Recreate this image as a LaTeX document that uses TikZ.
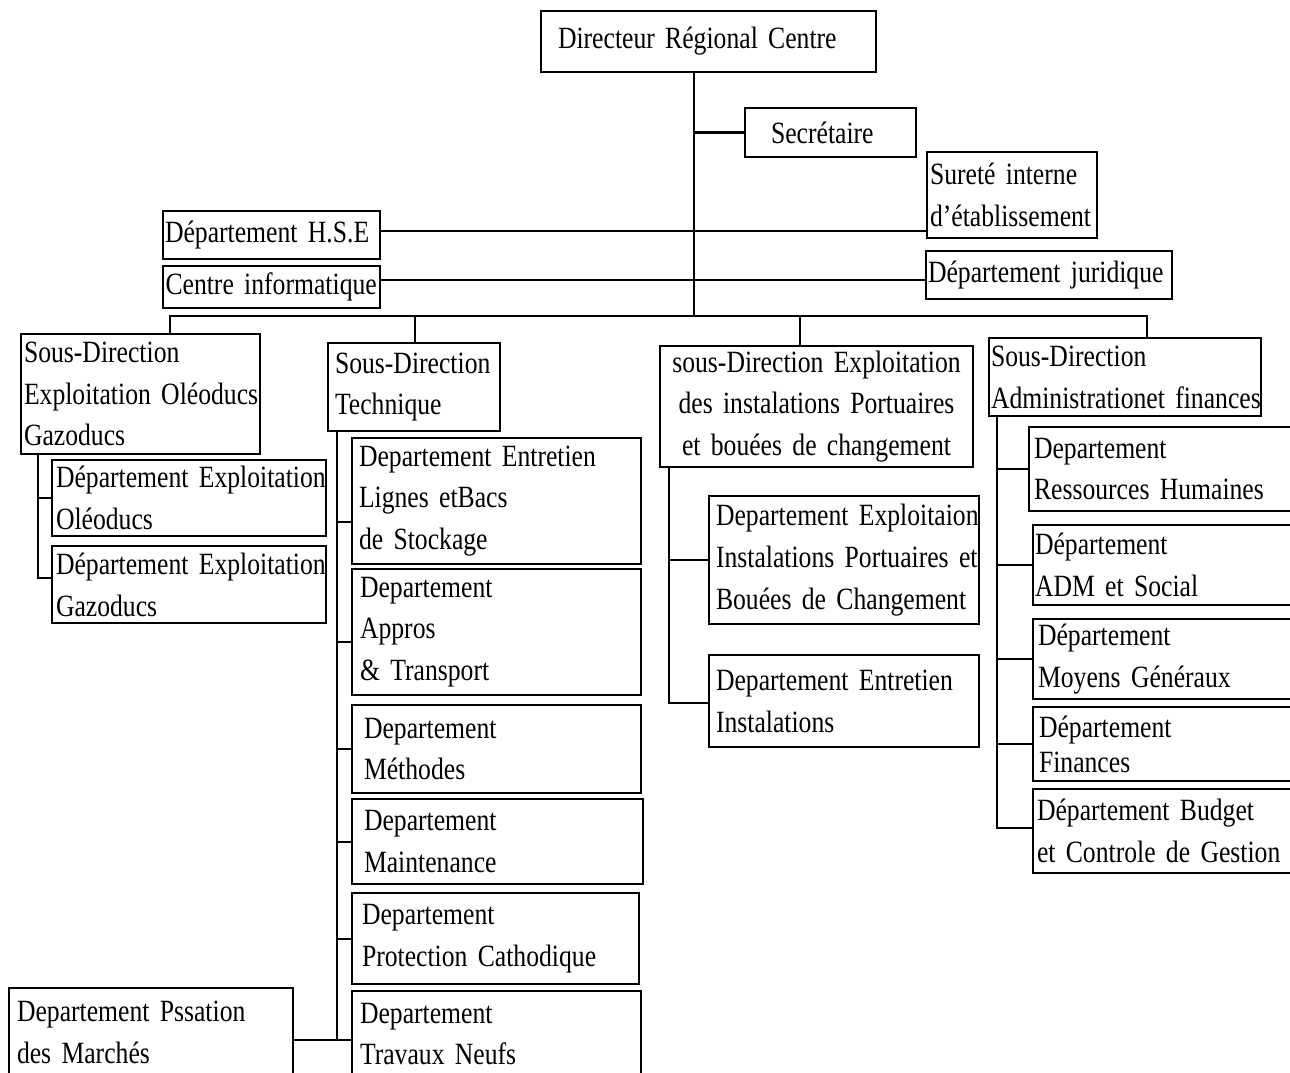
\documentclass[tikz,border=0pt]{standalone}
\usepackage{fontspec}
\setmainfont{Liberation Serif}[FakeStretch=0.83]
\newcommand\nohy{\hyphenpenalty=10000\exhyphenpenalty=10000\lefthyphenmin=64\hbadness=10000\hfuzz=50pt}
\newcommand\fsz{\fontsize{17.6pt}{23.8pt}\selectfont\nohy}
\newcommand\fszb{\fontsize{17.6pt}{19.9pt}\selectfont\nohy}
\tikzset{
  bx/.style={draw, line width=1.15pt, rectangle, anchor=north west, inner ysep=0pt, font=\fsz, align=left},
  ln/.style={line width=1.15pt},
}
\begin{document}
\begin{tikzpicture}[x=0.02cm,y=-0.02cm]
\useasboundingbox (0,0) rectangle (1290,1072);
% top level
\node[bx, minimum width=6.70cm, minimum height=1.22cm, inner xsep=0.34cm, text width=6.02cm] (dir) at (540,10) {Directeur~Régional~Centre};
\node[bx, minimum width=3.42cm, minimum height=0.98cm, inner xsep=0.52cm, text width=2.38cm] (sec) at (744,107) {Secrétaire};
\node[bx, minimum width=3.40cm, minimum height=1.72cm, inner xsep=0.06cm, text width=3.28cm] (sur) at (926,151) {Sureté~interne\\d'établissement};
\node[bx, minimum width=4.34cm, minimum height=0.96cm, inner xsep=0.04cm, text width=4.26cm] (hse) at (162,210) {Département~H.S.E};
\node[bx, minimum width=4.34cm, minimum height=0.84cm, inner xsep=0.05cm, text width=4.24cm] (ci) at (162,265) {Centre~informatique};
\node[bx, minimum width=4.92cm, minimum height=0.96cm, inner xsep=0.04cm, text width=4.84cm] (jur) at (925,250) {Département~juridique};
% sous-directions
\node[bx, minimum width=4.78cm, minimum height=2.40cm, inner xsep=0.06cm, text width=4.66cm] (s1) at (20,333) {Sous-Direction\\Exploitation~Oléoducs\\Gazoducs};
\node[bx, minimum width=3.44cm, minimum height=1.76cm, inner xsep=0.14cm, text width=3.16cm] (s2) at (327,342) {Sous-Direction\\Technique};
\node[bx, minimum width=6.26cm, minimum height=2.42cm, inner xsep=0.10cm, text width=6.06cm, align=center] (s3) at (659,345) {sous-Direction~Exploitation\\des~instalations~Portuaires\\et~bouées~de~changement};
\node[bx, minimum width=5.44cm, minimum height=1.56cm, inner xsep=0.04cm, text width=5.36cm] (s4) at (988,337) {Sous-Direction\\Administrationet~finances};
% SD1 children
\node[bx, minimum width=5.48cm, minimum height=1.52cm, inner xsep=0.08cm, text width=5.32cm] (e1) at (51,459) {Département~Exploitation\\Oléoducs};
\node[bx, minimum width=5.48cm, minimum height=1.54cm, inner xsep=0.08cm, text width=5.32cm] (e2) at (51,545) {Département~Exploitation\\Gazoducs};
% SD2 children
\node[bx, minimum width=5.78cm, minimum height=2.52cm, inner xsep=0.14cm, text width=5.50cm] (t1) at (351,437) {Departement~Entretien\\Lignes~etBacs\\de~Stockage};
\node[bx, minimum width=5.78cm, minimum height=2.52cm, inner xsep=0.16cm, text width=5.46cm] (t2) at (351,568) {Departement\\Appros\\\&~Transport};
\node[bx, minimum width=5.78cm, minimum height=1.76cm, inner xsep=0.24cm, text width=5.30cm] (t3) at (351,704) {Departement\\Méthodes};
\node[bx, minimum width=5.82cm, minimum height=1.70cm, inner xsep=0.24cm, text width=5.34cm] (t4) at (351,798) {Departement\\Maintenance};
\node[bx, minimum width=5.74cm, minimum height=1.82cm, inner xsep=0.20cm, text width=5.34cm] (t5) at (351,892) {Departement\\Protection~Cathodique};
\node[bx, minimum width=5.78cm, minimum height=1.72cm, inner xsep=0.16cm, text width=5.46cm] (t6) at (351,990) {Departement\\Travaux~Neufs};
\node[bx, minimum width=5.68cm, minimum height=1.78cm, inner xsep=0.16cm, text width=5.36cm] (pm) at (8,987) {Departement~Pssation\\des~Marchés};
% SD3 children
\node[bx, minimum width=5.40cm, minimum height=2.56cm, inner xsep=0.14cm, text width=5.12cm] (p1) at (708,495) {Departement~Exploitaion\\Instalations~Portuaires~et\\Bouées~de~Changement};
\node[bx, minimum width=5.40cm, minimum height=1.84cm, inner xsep=0.14cm, text width=5.12cm] (p2) at (708,654) {Departement~Entretien\\Instalations};
% SD4 children
\node[bx, minimum width=5.44cm, minimum height=1.68cm, inner xsep=0.10cm, text width=5.24cm] (a1) at (1028,426) {Departement\\Ressources~Humaines};
\node[bx, minimum width=5.36cm, minimum height=1.60cm, inner xsep=0.04cm, text width=5.28cm] (a2) at (1032,524) {Département\\ADM~et~Social};
\node[bx, minimum width=5.36cm, minimum height=1.60cm, inner xsep=0.10cm, text width=5.16cm] (a3) at (1032,618) {Département\\Moyens~Généraux};
\node[bx, minimum width=5.36cm, minimum height=1.48cm, inner xsep=0.12cm, text width=5.12cm, font=\fszb] (a4) at (1032,706) {Département\\Finances};
\node[bx, minimum width=5.36cm, minimum height=1.68cm, inner xsep=0.08cm, text width=5.20cm] (a5) at (1032,788) {Département~Budget\\et~Controle~de~Gestion};
% connectors: spine
\coordinate (sp) at (694,316);
\coordinate (h1) at (694,231);
\coordinate (h2) at (694,280);
\draw[ln] (sp |- dir.south) -- (sp);
\draw[ln] (sp |- sec.west) -- (sec.west);
\draw[ln] (hse.east |- h1) -- (sur.west |- h1);
\draw[ln] (ci.east |- h2) -- (jur.west |- h2);
% bus
\coordinate (bl) at (170,316);
\coordinate (d2) at (415,316);
\coordinate (d3) at (800,316);
\coordinate (br) at (1147,316);
\draw[ln] (bl |- s1.north) -- (bl) -- (br) -- (br |- s4.north);
\draw[ln] (d2) -- (d2 |- s2.north);
\draw[ln] (d3) -- (d3 |- s3.north);
% SD1 branch
\coordinate (v1) at (38,578);
\draw[ln] (v1 |- s1.south) -- (v1) -- (v1 -| e2.west);
\draw[ln] (v1 |- e1.west) -- (e1.west);
% SD2 branch
\coordinate (v2) at (337,1040);
\coordinate (c1) at ([yshift=-0.42cm]t1.west);
\coordinate (c2) at ([yshift=-0.20cm]t2.west);
\draw[ln] (v2 |- s2.south) -- (v2) -- (v2 -| t6.west);
\draw[ln] (pm.east |- v2) -- (v2);
\draw[ln] (v2 |- c1) -- (c1);
\draw[ln] (v2 |- c2) -- (c2);
\draw[ln] (v2 |- t3.west) -- (t3.west);
\draw[ln] (v2 |- t4.west) -- (t4.west);
\draw[ln] (v2 |- t5.west) -- (t5.west);
% SD3 branch
\coordinate (v3) at (669,703);
\draw[ln] (v3 |- s3.south) -- (v3) -- (v3 -| p2.west);
\draw[ln] (v3 |- p1.west) -- (p1.west);
% SD4 branch
\coordinate (v4) at (997,828);
\draw[ln] (v4 |- s4.south) -- (v4) -- (v4 -| a5.west);
\draw[ln] (v4 |- a1.west) -- (a1.west);
\draw[ln] (v4 |- a2.west) -- (a2.west);
\draw[ln] (v4 |- a3.west) -- (a3.west);
\draw[ln] (v4 |- a4.west) -- (a4.west);
\end{tikzpicture}
\end{document}
